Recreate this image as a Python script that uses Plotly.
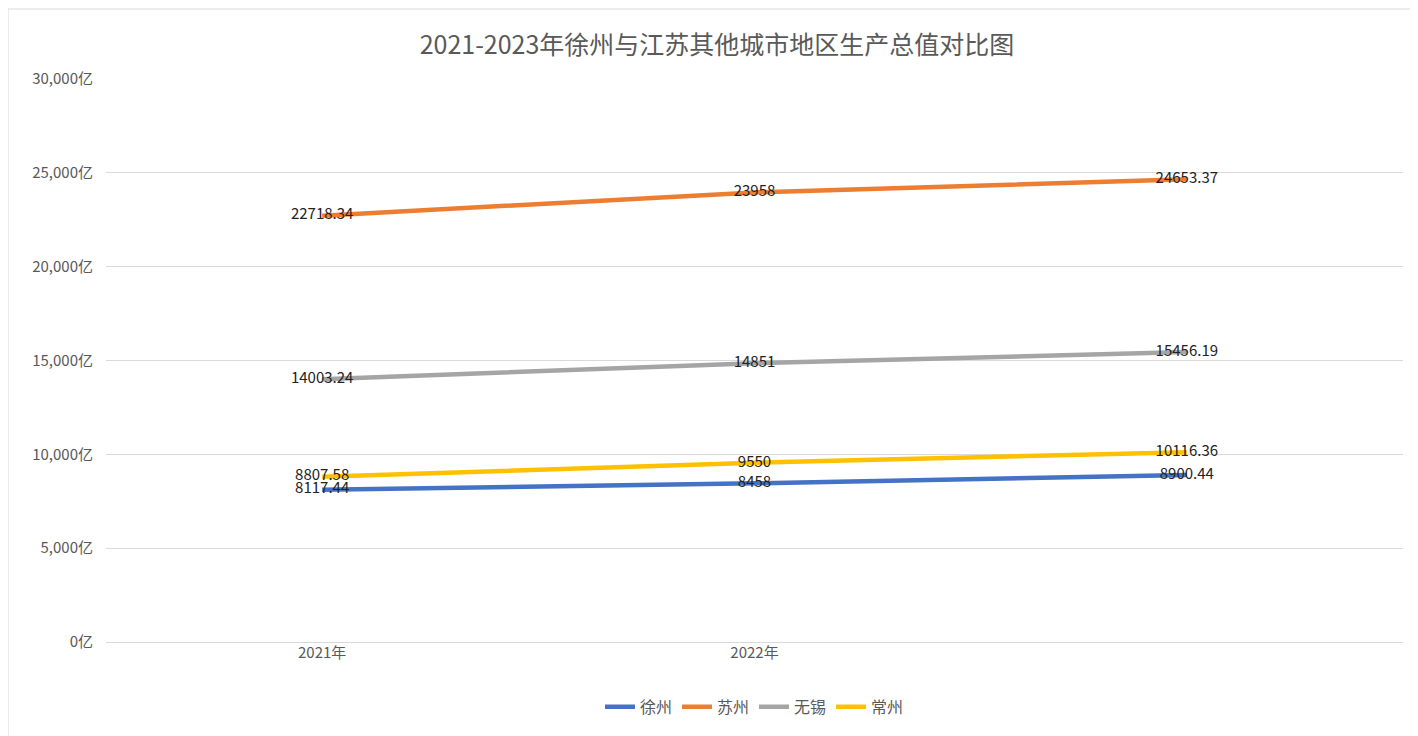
import plotly.graph_objects as go

years = ["2021年", "2022年", "2023年"]
tick_labels = ["2021年", "2022年", ""]
series_names = ["徐州", "苏州", "无锡", "常州"]
xuzhou = ["8117.44", "8458", "8900.44"]
suzhou = ["22718.34", "23958", "24653.37"]
wuxi = ["14003.24", "14851", "15456.19"]
changzhou = ["8807.58", "9550", "10116.36"]
colors = ["#4472C4", "#ED7D31", "#A5A5A5", "#FFC000"]

fig = go.Figure()
for name, vals, c in zip(series_names, [xuzhou, suzhou, wuxi, changzhou], colors):
    fig.add_trace(go.Scatter(
        x=years, y=[float(v) for v in vals], name=name, mode="lines+text",
        line=dict(color=c, width=4.5),
        text=vals, textposition="middle center",
        textfont=dict(size=15, color="#222"),
    ))

fig.update_layout(
    width=1418, height=736, paper_bgcolor="white", plot_bgcolor="white",
    font=dict(family="Noto Sans CJK SC", color="#595959"),
    title=dict(text="2021-2023年徐州与江苏其他城市地区生产总值对比图", x=0.5, y=0.95,
               xanchor="center", yanchor="middle", font=dict(size=25, color="#595959")),
    margin=dict(l=98, r=23, t=71, b=102),
    xaxis=dict(tickmode="array", tickvals=years, ticktext=tick_labels,
               tickfont=dict(size=15), showgrid=False, showline=False,
               range=[-0.5, 2.5]),
    yaxis=dict(range=[0, 30000], dtick=5000, tickformat=",", ticksuffix="亿",
               tickfont=dict(size=15), gridcolor="#D9D9D9", gridwidth=1.3,
               zeroline=True, zerolinecolor="#D9D9D9", zerolinewidth=1.3, ticklabelstandoff=12),
    legend=dict(orientation="h", x=0.5, xanchor="center", y=-0.085, yanchor="top",
                font=dict(size=16, color="#595959")),
    shapes=[dict(type="rect", xref="paper", yref="paper", x0=-98/1297, x1=1+22/1297,
                 y0=-101/563, y1=1+70/563, line=dict(color="#D9D9D9", width=1))],
)
fig.write_html("out.html")
